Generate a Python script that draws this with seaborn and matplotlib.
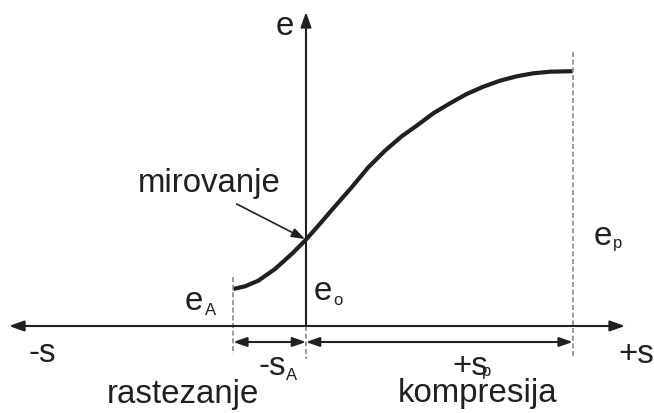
import matplotlib
matplotlib.use("Agg")
import matplotlib.pyplot as plt
import pandas as pd
import seaborn as sns

sns.set_theme(style="white")
plt.rcParams['font.family'] = ['Liberation Sans', 'DejaVu Sans']

# curve: displacement s vs. output e
s_vals = [-7.27, -6.1, -4.77, -3.1, -1.43, -0.1, 1.23, 2.9, 4.57, 6.23, 7.9,
          9.57, 11.07, 12.73, 14.4, 16.07, 17.73, 19.4, 21.07, 22.73, 24.4, 26.67]
e_vals = [3.7, 3.97, 4.53, 5.7, 7.2, 8.53, 10.03, 11.97, 13.87, 15.87, 17.53,
          18.97, 20.03, 21.27, 22.27, 23.2, 23.93, 24.53, 24.97, 25.27, 25.43, 25.48]
s_A = s_vals[0]
s_p = s_vals[-1]

ink = '#231f20'
grey = '#8a8a8a'

fig = plt.figure(figsize=(6.54, 4.14), dpi=100)
ax = fig.add_axes([0, 0, 1, 1])

data = pd.DataFrame({"s": s_vals, "e": e_vals})
sns.lineplot(x="s", y="e", data=data, ax=ax, color=ink, lw=3.0,
             sort=False, solid_capstyle='butt')

# axes with arrows
ax.annotate('', xy=(-29.7, 0), xytext=(31.9, 0),
            arrowprops=dict(arrowstyle='<|-|>,head_length=0.9,head_width=0.32',
                            lw=1.5, color=ink, shrinkA=0, shrinkB=0, mutation_scale=10))
ax.annotate('', xy=(0, 31.4), xytext=(0, 0),
            arrowprops=dict(arrowstyle='-|>,head_length=0.9,head_width=0.32',
                            lw=1.5, color=ink, shrinkA=0, shrinkB=0, mutation_scale=10))

# dashed guide lines
dash = (0, (3, 1.6))
ax.plot([s_A, s_A], [4.9, -2.8], color=grey, lw=1.2, linestyle=dash)
ax.plot([0, 0], [0, -3.3], color=grey, lw=1.2, linestyle=dash)
ax.plot([s_p, s_p], [27.4, -3.0], color=grey, lw=1.2, linestyle=dash)

# dimension arrows
for a, b in [(s_A, 0), (0, s_p)]:
    ax.annotate('', xy=(a, -1.6), xytext=(b, -1.6),
                arrowprops=dict(arrowstyle='<|-|>,head_length=0.8,head_width=0.28',
                                lw=1.5, color=ink, shrinkA=0, shrinkB=0, mutation_scale=10))

# rest point pointer
ax.annotate('', xy=(-0.1, 8.7), xytext=(-6.93, 12.2),
            arrowprops=dict(arrowstyle='-|>,head_length=0.8,head_width=0.28',
                            lw=1.2, color=ink, shrinkA=0, shrinkB=0, mutation_scale=10))

big = 23.8
small = 12
kw = dict(color=ink, va='baseline', ha='left')
ax.text(-3.0, 29.2, 'e', fontsize=big, **kw)
ax.text(-16.8, 13.5, 'mirovanje', fontsize=big, **kw)
ax.text(-12.1, 1.7, 'e', fontsize=big, **kw)
ax.text(-10.1, 1.2, 'A', fontsize=small, **kw)
ax.text(0.8, 2.7, 'e', fontsize=big, **kw)
ax.text(2.7, 2.2, 'o', fontsize=small, **kw)
ax.text(28.8, 8.2, 'e', fontsize=big, **kw)
ax.text(30.7, 7.9, 'p', fontsize=small, **kw)
ax.text(-27.8, -3.5, '-s', fontsize=big, **kw)
ax.text(31.2, -3.6, '+s', fontsize=big, **kw)
ax.text(-4.8, -4.8, '-s', fontsize=big, **kw)
ax.text(-2.0, -5.3, 'A', fontsize=small, **kw)
ax.text(14.6, -4.8, '+s', fontsize=big, **kw)
ax.text(17.6, -4.95, 'p', fontsize=small, **kw)
ax.text(-19.9, -7.6, 'rastezanje', fontsize=big, **kw)
ax.text(9.2, -7.55, 'kompresija', fontsize=big, **kw)

ax.set_xlim(-30.6, 34.8)
ax.set_ylim(-8.7, 32.7)
ax.axis('off')

fig.savefig('out.png', dpi=100)
